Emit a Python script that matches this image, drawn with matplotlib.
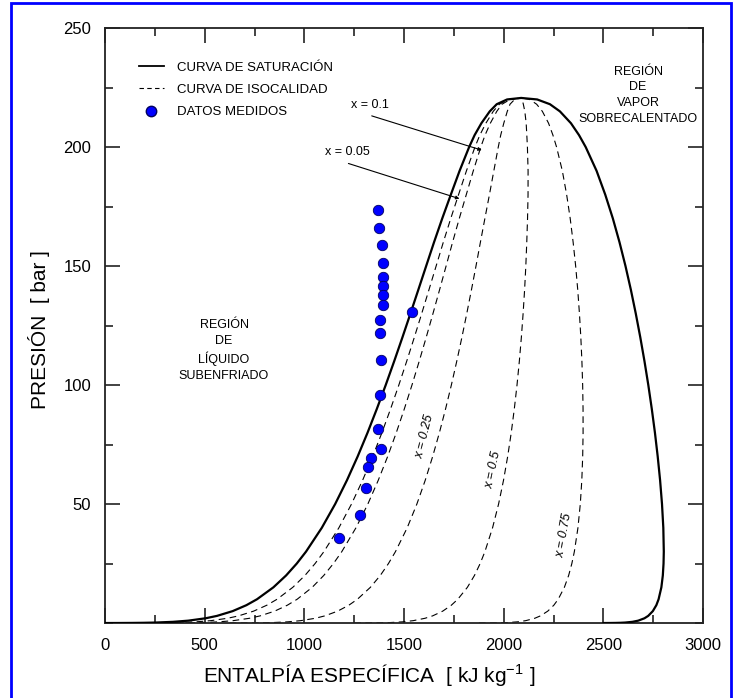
import numpy as np
import matplotlib
matplotlib.use("Agg")
import matplotlib.pyplot as plt
import matplotlib.patches as patches
from matplotlib.lines import Line2D
from matplotlib.ticker import MultipleLocator

plt.rcParams['font.family'] = ['Liberation Sans', 'DejaVu Sans']
NARROW = ['Liberation Sans Narrow', 'Liberation Sans', 'DejaVu Sans']

# saturation curve of water: pressure [bar], liquid and vapour enthalpy [kJ/kg]
p_sat = [0.00611, 0.02, 0.05, 0.1, 0.2, 0.5, 1, 2, 3, 5, 7.5, 10, 15, 20, 25, 30,
         40, 50, 60, 70, 80, 90, 100, 110, 120, 130, 140, 150, 160, 170, 180,
         190, 200, 205, 210, 215, 218, 220, 220.64]
h_liq = [0.0, 73.4, 137.8, 191.8, 251.4, 340.5, 417.5, 504.7, 561.5, 640.1, 709.2,
         762.5, 844.6, 908.5, 961.9, 1008.3, 1087.4, 1154.5, 1213.7, 1267.4, 1317.1,
         1363.7, 1408.1, 1450.6, 1491.8, 1532.0, 1571.6, 1611.0, 1650.5, 1691.7,
         1734.8, 1778.7, 1826.6, 1854.0, 1888.0, 1930.0, 1965.0, 2017.0, 2087.5]
h_vap = [2501.0, 2532.9, 2560.7, 2583.9, 2608.9, 2645.2, 2675.0, 2706.2, 2724.9,
         2748.1, 2765.8, 2777.1, 2791.0, 2798.3, 2801.9, 2803.2, 2800.8, 2794.2,
         2784.6, 2772.6, 2758.7, 2742.9, 2725.5, 2706.3, 2685.4, 2662.7, 2638.1,
         2611.0, 2581.0, 2547.6, 2509.5, 2466.0, 2411.4, 2378.0, 2337.5, 2282.0,
         2232.0, 2168.0, 2087.5]

qualities = [0.05, 0.1, 0.25, 0.5, 0.75]

# measured points
h_meas = [1368, 1376, 1388, 1395, 1393, 1393, 1393, 1393, 1380, 1381, 1383, 1542,
          1378, 1368, 1383, 1336, 1321, 1308, 1280, 1172]
p_meas = [173.4, 166.1, 158.7, 151.2, 145.5, 141.5, 137.8, 133.8, 127.2, 121.9,
          110.7, 130.5, 96.0, 81.6, 73.1, 69.4, 65.7, 56.9, 45.5, 35.6]

p = np.array(p_sat)
hl = np.array(h_liq)
hv = np.array(h_vap)

fig = plt.figure(figsize=(7.36, 6.98), dpi=100)
ax = fig.add_axes([0.1427, 0.1074, 0.8125, 0.8524])

# saturation dome
ax.plot(np.concatenate([hl, hv[::-1]]), np.concatenate([p, p[::-1]]),
        color='black', lw=1.6, zorder=3)

# isoquality lines
for q in qualities:
    ax.plot(hl + q * (hv - hl), p, color='black', lw=0.8,
            dashes=(6, 4), zorder=2)

ax.plot(h_meas, p_meas, 'o', color='#0000ff', mec='#000060', mew=0.6,
        ms=7.5, zorder=4)

ax.set_xlim(0, 3000)
ax.set_ylim(0, 250)
ax.xaxis.set_minor_locator(MultipleLocator(250))
ax.yaxis.set_minor_locator(MultipleLocator(25))
ax.set_xticks([0, 500, 1000, 1500, 2000, 2500, 3000])
ax.set_yticks([50, 100, 150, 200, 250])
ax.tick_params(which='both', direction='in', top=True, right=True,
               width=1.2, color='#222222')
ax.tick_params(which='major', length=11, labelsize=12)
ax.tick_params(axis='x', which='major', pad=11)
ax.tick_params(axis='y', which='major', pad=10)
ax.tick_params(which='minor', length=6)
for s in ax.spines.values():
    s.set_linewidth(1.3)
    s.set_color('#222222')

ax.set_xlabel('ENTALPÍA ESPECÍFICA  [ kJ kg$^{\\mathregular{-1}}$ ]', fontsize=15)
ax.xaxis.set_label_coords(0.441, -0.066)
ax.set_ylabel('PRESIÓN  [ bar ]', fontsize=15)
ax.yaxis.set_label_coords(-0.092, 0.493)

# legend
handles = [Line2D([], [], color='black', lw=1.3),
           Line2D([], [], color='black', lw=0.8, dashes=(4, 3)),
           Line2D([], [], ls='none', marker='o', color='#0000ff',
                  mec='#000060', ms=7.5)]
labels = ['CURVA DE SATURACIÓN', 'CURVA DE ISOCALIDAD', 'DATOS MEDIDOS']
ax.legend(handles, labels, loc='upper left', bbox_to_anchor=(0.045, 0.955),
          frameon=False, handlelength=1.9, handletextpad=1.0,
          labelspacing=0.77, borderpad=0, prop={'family': NARROW, 'size': 9.5})

# region labels
ax.text(597, 114.5, 'REGIÓN\nDE\nLÍQUIDO\nSUBENFRIADO', ha='center',
        va='center', fontsize=9, family=NARROW, linespacing=1.42)
ax.text(2674, 221.8, 'REGIÓN\nDE\nVAPOR\nSOBRECALENTADO', ha='center',
        va='center', fontsize=9, family=NARROW, linespacing=1.42)

# annotations
ax.annotate('', xy=(1890, 198.7), xytext=(1338, 213.1),
            arrowprops=dict(arrowstyle='-|>', lw=0.8, color='black',
                            mutation_scale=5, shrinkA=0, shrinkB=0))
ax.text(1330, 217.6, 'x = 0.1', ha='center', va='center', fontsize=9,
        family=NARROW)
ax.annotate('', xy=(1778, 178.3), xytext=(1221, 193.1),
            arrowprops=dict(arrowstyle='-|>', lw=0.8, color='black',
                            mutation_scale=5, shrinkA=0, shrinkB=0))
ax.text(1214, 197.8, 'x = 0.05', ha='center', va='center', fontsize=9,
        family=NARROW)

ax.text(1606, 78.4, 'x = 0.25', rotation=76, ha='center', va='center',
        fontsize=9, family=NARROW, style='italic')
ax.text(1948, 64.4, 'x = 0.5', rotation=78, ha='center', va='center',
        fontsize=9, family=NARROW, style='italic')
ax.text(2305, 37, 'x = 0.75', rotation=80, ha='center', va='center',
        fontsize=9, family=NARROW, style='italic')

# blue frame around the figure
fig.patches.append(patches.Rectangle((0.0149, -0.02), 0.9783, 1.0157,
                                     transform=fig.transFigure, fill=False,
                                     edgecolor='#0000ff', lw=2))

fig.savefig('out.png', dpi=100)
